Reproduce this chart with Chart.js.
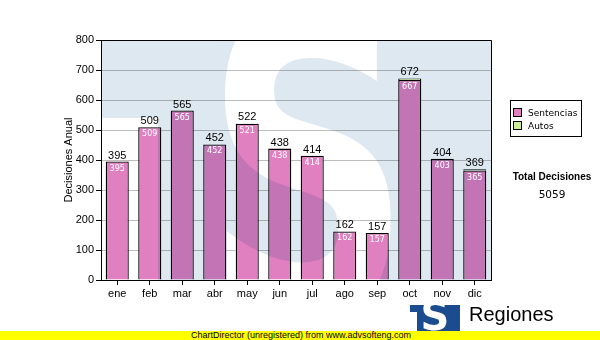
<!DOCTYPE html>
<html><head><meta charset="utf-8">
<script src="https://cdn.jsdelivr.net/npm/chart.js@4"></script>
<style>
html,body{margin:0;padding:0;background:#fff;}
#wrap{position:relative;width:600px;height:340px;overflow:hidden;font-family:"DejaVu Sans",sans-serif;color:#000;}
#c{position:absolute;left:0;top:0;}
#legend{position:absolute;left:510px;top:100px;width:70px;height:35px;border:1px solid #000;background:#fff;font-size:9px;}
.li{position:absolute;left:2px;height:12px;line-height:12px;white-space:nowrap;}
.sw{display:inline-block;width:7px;height:7px;border:1px solid #000;vertical-align:-1px;margin-right:6px;}
#tot{position:absolute;left:510px;width:84px;top:171px;text-align:center;font:bold 10px "Liberation Sans",Arial,sans-serif;}
#totv{position:absolute;left:510px;width:84px;top:188px;text-align:center;font-size:10.5px;}
#logo{position:absolute;left:410px;top:305px;width:50px;height:26px;overflow:hidden;}
#logo .b1{position:absolute;left:0;top:0;width:50px;height:7px;background:#1b4c8f;}
#logo .b2{position:absolute;left:7px;top:0;width:43px;height:26px;background:#1b4c8f;}
#logo .s{position:absolute;left:0;top:-9px;width:50px;text-align:center;font:bold 40px "DejaVu Sans",sans-serif;color:#fff;line-height:40px;}
#reg{position:absolute;left:469px;top:303px;font:20px "Liberation Sans",Arial,sans-serif;line-height:22px;}
#foot{position:absolute;left:0;top:331px;width:600px;height:9px;background:#ffff00;overflow:hidden;}
#foot span{position:absolute;left:191px;top:-1px;font:9px "Liberation Sans",Arial,sans-serif;line-height:10px;white-space:nowrap;}
</style></head><body>
<div id="wrap">
<canvas id="c" width="600" height="340"></canvas>
<div id="legend">
 <div class="li" style="top:6px"><span class="sw" id="sw0"></span><span id="lg0"></span></div>
 <div class="li" style="top:19px"><span class="sw" id="sw1"></span><span id="lg1"></span></div>
</div>
<div id="tot"></div>
<div id="totv"></div>
<div id="logo"><div class="b1"></div><div class="b2"></div><div class="s">S</div></div>
<div id="reg">Regiones</div>
<div id="foot"><span>ChartDirector (unregistered) from www.advsofteng.com</span></div>
</div>
<script>
const categories = ['ene','feb','mar','abr','may','jun','jul','ago','sep','oct','nov','dic'];
const sentencias = [395,509,565,452,521,438,414,162,157,667,403,365];
const autos = [0,0,0,0,1,0,0,0,0,5,1,4];
const seriesNames = ['Sentencias','Autos'];
const yAxisTitle = 'Decisiones Anual';
const totalTitle = 'Total Decisiones';
const yMin = 0, yMax = 800, yStep = 100;

const pink = '#e080c0';
const green = '#d0ec98';
const totals = categories.map((c,i)=>sentencias[i]+autos[i]);
const grandTotal = totals.reduce((a,b)=>a+b,0);

document.getElementById('lg0').textContent = seriesNames[0];
document.getElementById('lg1').textContent = seriesNames[1];
document.getElementById('sw0').style.background = pink;
document.getElementById('sw1').style.background = green;
document.getElementById('tot').textContent = totalTitle;
document.getElementById('totv').textContent = String(grandTotal);

const lab = '"Liberation Sans", Arial, sans-serif';

const overlay = {
  id:'overlay',
  afterDatasetsDraw(chart){
    const ctx = chart.ctx, a = chart.chartArea;
    // watermark
    const off = document.createElement('canvas');
    off.width = 600; off.height = 340;
    const o = off.getContext('2d');
    o.fillStyle = '#dde8f1';
    o.fillRect(a.left, a.top, a.right-a.left, 78);
    o.fillRect(158, a.top+78, a.right-158, a.bottom-a.top-78);
    o.fillStyle = '#fff';
    o.save();
    o.translate(308, 314);
    o.scale(0.9, 1.32);
    o.font = 'bold 320px "DejaVu Sans", sans-serif';
    o.textAlign = 'center';
    o.textBaseline = 'alphabetic';
    o.fillText('S', 0, 0);
    o.restore();
    ctx.save();
    ctx.beginPath();
    ctx.rect(a.left, a.top, a.right-a.left, a.bottom-a.top);
    ctx.clip();
    ctx.globalCompositeOperation = 'multiply';
    ctx.drawImage(off, 0, 0);
    ctx.restore();
    // labels
    const meta = chart.getDatasetMeta(0);
    const ys = chart.scales.y;
    ctx.save();
    ctx.textAlign = 'center';
    for (let i=0;i<categories.length;i++){
      const x = meta.data[i].x;
      const yTop = ys.getPixelForValue(totals[i]);
      ctx.fillStyle = '#000';
      ctx.font = '11px ' + lab;
      ctx.textBaseline = 'alphabetic';
      ctx.fillText(String(totals[i]), x, yTop-3);
      const yS = ys.getPixelForValue(sentencias[i]);
      ctx.fillStyle = '#fff';
      ctx.font = '8px "DejaVu Sans", sans-serif';
      ctx.textBaseline = 'middle';
      ctx.fillText(String(sentencias[i]), x, yS+7);
    }
    ctx.restore();
  },
  afterDraw(chart){
    const ctx = chart.ctx, a = chart.chartArea;
    ctx.save();
    ctx.strokeStyle = '#000';
    ctx.lineWidth = 1;
    ctx.beginPath();
    ctx.moveTo(Math.round(a.left), Math.round(a.top)+0.5);
    ctx.lineTo(Math.round(a.right)+0.5, Math.round(a.top)+0.5);
    ctx.lineTo(Math.round(a.right)+0.5, Math.round(a.bottom));
    ctx.stroke();
    ctx.restore();
  }
};

new Chart(document.getElementById('c'), {
  type:'bar',
  data:{
    labels:categories,
    datasets:[
      {label:seriesNames[0], data:sentencias, backgroundColor:pink, borderColor:'#000', borderWidth:1.3, borderSkipped:'start'},
      {label:seriesNames[1], data:autos, backgroundColor:green, borderColor:'#000',
       borderWidth:(c)=> (c.raw ? 1.3 : 0), borderSkipped:'start'}
    ]
  },
  options:{
    responsive:false,
    animation:false,
    devicePixelRatio:1,
    layout:{padding:{left:60, top:40, right:109, bottom:0}},
    datasets:{bar:{barPercentage:0.71, categoryPercentage:1}},
    plugins:{legend:{display:false}, tooltip:{enabled:false}},
    scales:{
      x:{
        stacked:true,
        afterFit(s){ s.height = 60; },
        grid:{display:true, drawOnChartArea:false, drawTicks:true, tickLength:5, tickColor:'#000', offset:false},
        border:{display:true, color:'#000'},
        ticks:{color:'#000', font:{family:'Liberation Sans, Arial, sans-serif', size:11}, padding:2, maxRotation:0}
      },
      y:{
        stacked:true,
        min:yMin, max:yMax,
        afterFit(s){ s.width = 41; },
        grid:{color:'#bdbdbd', lineWidth:1, tickLength:5, tickColor:'#000'},
        border:{display:true, color:'#000'},
        ticks:{stepSize:yStep, color:'#000', font:{family:'Liberation Sans, Arial, sans-serif', size:11}, padding:2},
        title:{display:true, text:yAxisTitle, color:'#000', font:{family:'Liberation Sans, Arial, sans-serif', size:11}, padding:{top:2,bottom:0}}
      }
    }
  },
  plugins:[overlay]
});
</script>
</body></html>
